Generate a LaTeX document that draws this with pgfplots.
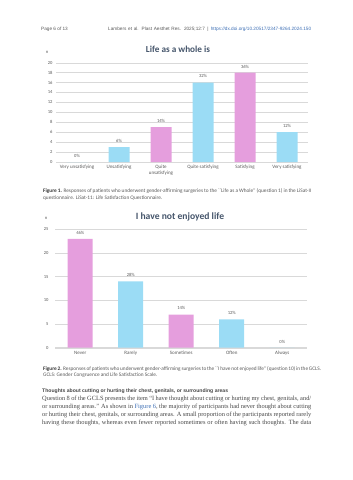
\documentclass[border=0pt]{standalone}
\usepackage{fontspec}
\setmainfont{Liberation Serif}
\newfontfamily\carlito{Carlito}
\newfontfamily\arialf{Liberation Sans}
\usepackage{pgfplots}
\pgfplotsset{compat=1.18}
\definecolor{barblue}{RGB}{155,220,245}
\definecolor{barpink}{RGB}{229,158,221}
\definecolor{titlec}{RGB}{68,84,106}
\definecolor{lab}{RGB}{89,89,89}
\definecolor{gridc}{RGB}{217,217,217}
\definecolor{linkc}{RGB}{60,110,180}
\definecolor{txt}{RGB}{70,70,70}
\newcommand{\sm}{\carlito\fontsize{4.6}{5.2}\selectfont}
\pgfplotsset{mybars/.style={
  scale only axis, axis x line*=bottom, axis y line*=left,
  x axis line style={draw=gridc, line width=0.6pt, -},
  y axis line style={draw=none},
  tick style={draw=none}, ymajorgrids, grid style={draw=gridc, line width=0.4pt},
  ymin=0, clip=false,
  /pgf/number format/assume math mode=true,
  ticklabel style={font=\sm, text=lab},
  xticklabel style={align=center, font=\carlito\fontsize{5}{5.6}\selectfont, text=lab},
  nodes near coords, point meta=explicit symbolic,
  every node near coord/.append style={font=\sm, text=lab, yshift=1pt},
}}
\begin{document}
\begin{tikzpicture}[x=1pt,y=1pt]
\path[use as bounding box] (0pt,0pt) rectangle (353pt,-480pt);
% header
\node[anchor=west, inner sep=0, font=\arialf\fontsize{4.7}{5}\selectfont, text=lab] at (41pt,-29pt) {Page 6 of 13};
\node[anchor=west, inner sep=0, font=\arialf\fontsize{4.7}{5}\selectfont, text=lab] at (108pt,-29pt) {\makebox[203pt][s]{Lambers et al. Plast Aesthet Res. 2025;12:7\enspace|\enspace\textcolor{linkc}{https://dx.doi.org/10.20517/2347-9264.2024.150}}};
% chart 1
\node[font=\carlito\bfseries\fontsize{9.2}{10}\selectfont, text=titlec] at (178pt,-49pt) {Life as a whole is};
\node[font=\sm, text=lab] at (47pt,-52pt) {n};
\begin{axis}[mybars, at={(56pt,-162pt)}, anchor=south west, width=252pt, height=99.3pt,
  xmin=-0.5, xmax=5.5, ymax=20, ytick={0,2,...,20}, xtick={0,...,5},
  xticklabels={Very unsatisfying, Unsatisfying, Quite\\unsatisfying, Quite satisfying, Satisfying, Very satisfying}]
\addplot[ybar, bar width=21pt, bar shift=0pt, fill=barblue, draw=none] coordinates {(0,0) [0\%] (1,3) [6\%] (3,16) [32\%] (5,6) [12\%]};
\addplot[ybar, bar width=21pt, bar shift=0pt, fill=barpink, draw=none] coordinates {(2,7) [14\%] (4,18) [36\%]};
\end{axis}
% caption 1
\node[anchor=west, inner sep=0, font=\carlito\fontsize{5.3}{6}\selectfont, text=lab] at (43pt,-190.7pt) {\makebox[268pt][s]{\textbf{\color{black!80}Figure 1.} Responses of patients who underwent gender-affirming surgeries to the ``Life as a Whole'' (question 1) in the LiSat-II}};
\node[anchor=west, inner sep=0, font=\carlito\fontsize{5.3}{6}\selectfont, text=lab] at (43pt,-198pt) {questionnaire. LiSat-11: Life Satisfaction Questionnaire.};
% chart 2
\node[font=\carlito\bfseries\fontsize{9.6}{10}\selectfont, text=titlec] at (180pt,-217pt) {I have not enjoyed life};
\node[font=\sm, text=lab] at (46pt,-218pt) {n};
\begin{axis}[mybars, at={(55pt,-347.7pt)}, anchor=south west, width=252.5pt, height=118.4pt,
  xmin=-0.5, xmax=4.5, ymax=25, ytick={0,5,...,25}, xtick={0,...,4},
  yticklabel style={xshift=-3pt},
  xticklabels={Never, Rarely, Sometimes, Often, Always}]
\addplot[ybar, bar width=25pt, bar shift=0pt, fill=barpink, draw=none] coordinates {(0,23) [46\%] (2,7) [14\%]};
\addplot[ybar, bar width=25pt, bar shift=0pt, fill=barblue, draw=none] coordinates {(1,14) [28\%] (3,6) [12\%] (4,0) [0\%]};
\end{axis}
% caption 2
\node[anchor=west, inner sep=0, font=\carlito\fontsize{5.3}{6}\selectfont, text=lab] at (43pt,-369pt) {\makebox[268pt][s]{\textbf{\color{black!80}Figure 2.} Responses of patients who underwent gender-affirming surgeries to the ``I have not enjoyed life'' (question 10) in the GCLS.}};
\node[anchor=west, inner sep=0, font=\carlito\fontsize{5.3}{6}\selectfont, text=lab] at (43pt,-375pt) {GCLS: Gender Congruence and Life Satisfaction Scale.};
% section
\node[anchor=west, inner sep=0, font=\arialf\bfseries\fontsize{5.1}{6}\selectfont, text=txt] at (42pt,-391pt) {Thoughts about cutting or hurting their chest, genitals, or surrounding areas};
\begin{scope}[every node/.style={anchor=west, inner sep=0, font=\fontsize{6.4}{7}\selectfont, text=txt}]
\node at (42pt,-399.3pt) {\makebox[269pt][s]{Question 8 of the GCLS presents the item ``I have thought about cutting or hurting my chest, genitals, and/}};
\node at (42pt,-407.3pt) {\makebox[269pt][s]{or surrounding areas.'' As shown in \textcolor{linkc}{Figure 6}, the majority of participants had never thought about cutting}};
\node at (42pt,-415.3pt) {\makebox[269pt][s]{or hurting their chest, genitals, or surrounding areas. A small proportion of the participants reported rarely}};
\node at (42pt,-423.3pt) {\makebox[269pt][s]{having these thoughts, whereas even fewer reported sometimes or often having such thoughts. The data}};
\end{scope}
\end{tikzpicture}
\end{document}
